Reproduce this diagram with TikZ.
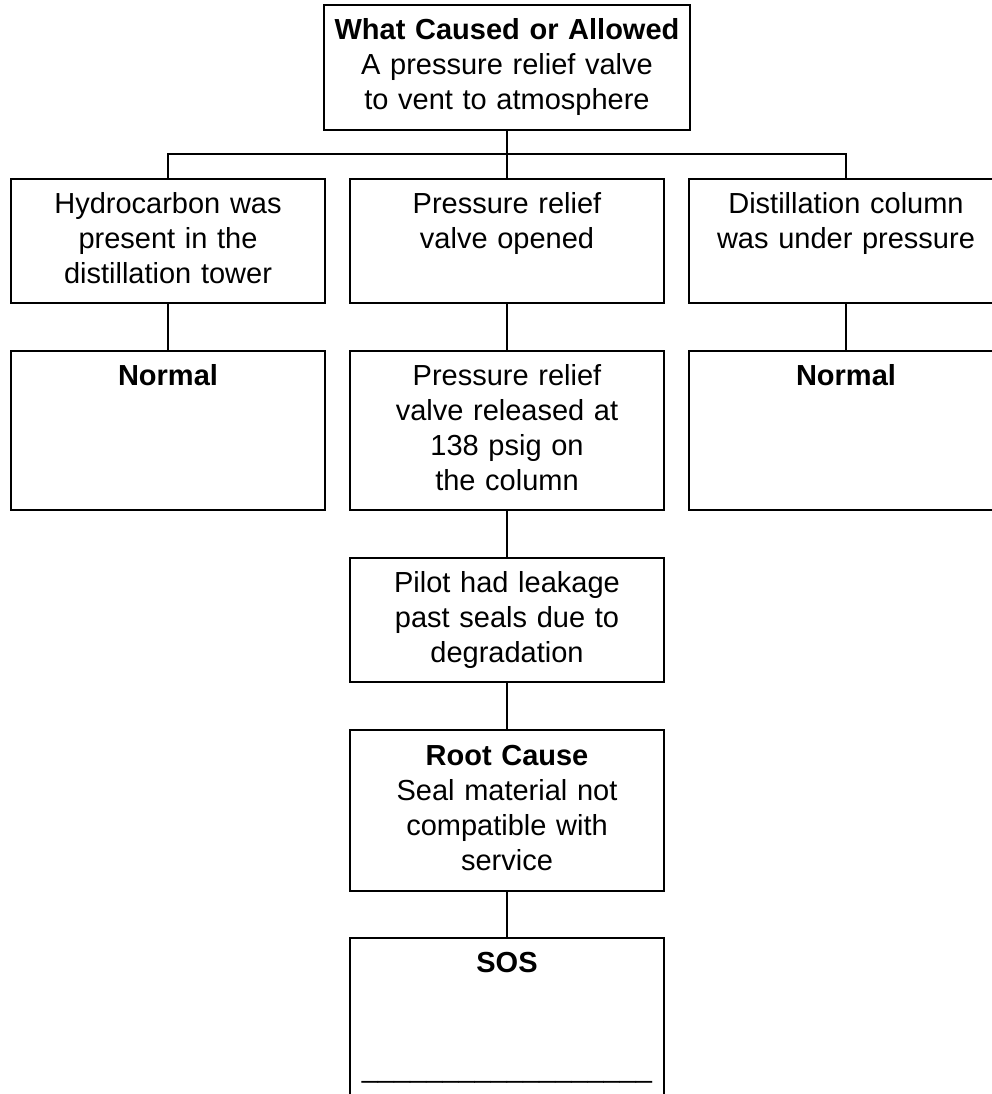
\documentclass[tikz,border=0pt]{standalone}
\usepackage{fontspec}
\setmainfont{Liberation Sans}
\usepackage{tikz}

\begin{document}
\begin{tikzpicture}
		[x = 1pt, y = -1pt,
		 box/.style = {draw, line width = 1.6pt, align = center, inner sep = 0pt,
		 	text width = 300pt, minimum width = 314pt, minimum height = 124pt,
		 	font = \fontsize{29}{35}\selectfont,
		 	execute at begin node = \strut, execute at end node = \strut},
		 tall/.style = {box, minimum height = 159pt},
		 link/.style = {line width = 1.2pt}]
			\useasboundingbox (0,0) rectangle (992,1094);
			\clip (0,0) rectangle (992,1094);
			\node [box, text width = 352pt, minimum width = 366pt, minimum height = 125pt] (cause) at (507,67.5)
				{\textbf{What Caused or Allowed}\\A pressure relief valve\\to vent to atmosphere};
			\node [box] (hydro) at (168,241) {Hydrocarbon was\\present in the\\distillation tower};
			\node [box] (relief) at (507,241) {Pressure relief\\valve opened\\~};
			\node [box] (column) at (846,241) {Distillation column\\was under pressure\\~};
			\node [tall] (normal1) at (168,430.5) {\textbf{Normal}\\~\\~\\~};
			\node [tall] (released) at (507,430.5) {Pressure relief\\valve released at\\138 psig on\\the column};
			\node [tall] (normal2) at (846,430.5) {\textbf{Normal}\\~\\~\\~};
			\node [box] (pilot) at (507,620) {Pilot had leakage\\past seals due to\\degradation};
			\node [box, minimum height = 161pt] (root) at (507,810.5)
				{\textbf{Root Cause}\\Seal material not\\compatible with\\service};
			\node [tall] (sos) at (507,1017.5)
				{\textbf{SOS}\\~\\~\\\_\_\_\_\_\_\_\_\_\_\_\_\_\_\_\_\_\_};
			\coordinate (bus) at (507,154);
			\draw [link] (cause.south) -- (bus);
			\draw [link] (bus) -| (hydro.north);
			\draw [link] (bus) -| (column.north);
			\draw [link] (bus) -- (relief.north);
			\draw [link] (hydro) -- (normal1);
			\draw [link] (relief) -- (released);
			\draw [link] (column) -- (normal2);
			\draw [link] (released) -- (pilot);
			\draw [link] (pilot) -- (root);
			\draw [link] (root) -- (sos);
	\end{tikzpicture}
\end{document}
